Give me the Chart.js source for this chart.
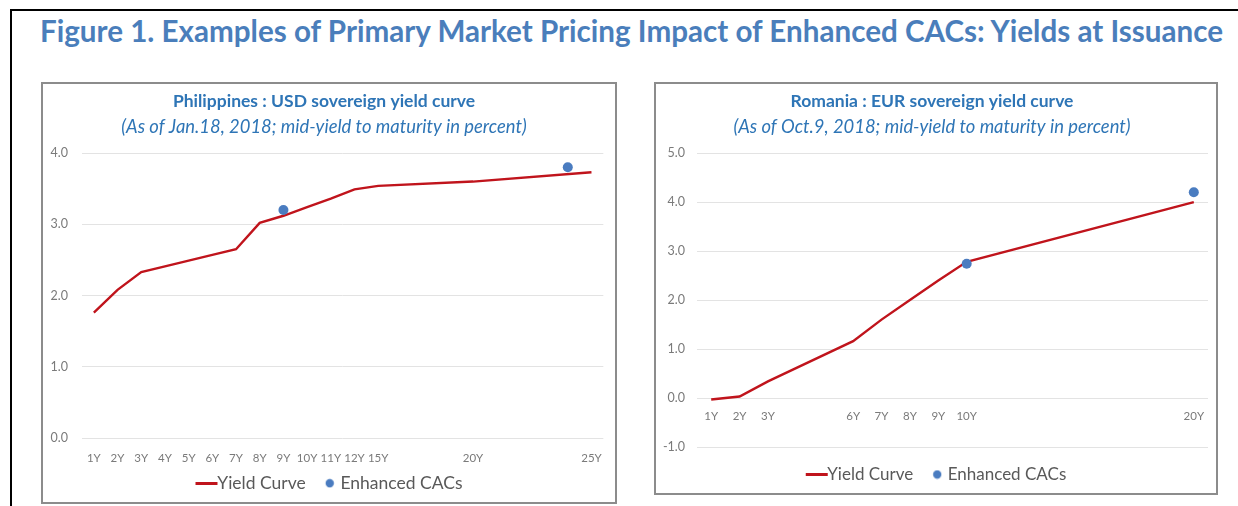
<!DOCTYPE html>
<html>
<head>
<meta charset="utf-8">
<script src="https://cdn.jsdelivr.net/npm/chart.js@4"></script>
<style>
  html, body { margin:0; padding:0; background:#fff; width:1238px; height:506px; overflow:hidden; }
  #frame { position:absolute; left:10px; top:9px; width:1240px; height:520px; border-left:2px solid #000; border-top:2px solid #000; box-sizing:border-box; }
  #figtitle { position:absolute; left:40px; top:13px; font-family:Lato, "Open Sans", sans-serif; font-weight:bold; font-size:29.6px; color:#4A7EBB; white-space:nowrap; }
  .panel { position:absolute; border:2px solid #8c8c8c; box-sizing:border-box; background:#fff; }
  #p1 { left:41px; top:82px; width:576px; height:422px; }
  #p2 { left:654px; top:82px; width:564px; height:413px; }
  .panel canvas { display:block; }
</style>
</head>
<body>
<div id="frame"></div>
<div id="figtitle">Figure 1. Examples of Primary Market Pricing Impact of Enhanced CACs: Yields at Issuance</div>
<div class="panel" id="p1"><canvas id="c1"></canvas></div>
<div class="panel" id="p2"><canvas id="c2"></canvas></div>
<script>
// ---- Data ----
const phTitle = 'Philippines : USD sovereign yield curve';
const phSubtitle = '(As of Jan.18, 2018; mid-yield to maturity in percent)';
const phLabels = ['1Y','2Y','3Y','4Y','5Y','6Y','7Y','8Y','9Y','10Y','11Y','12Y','15Y','','','','20Y','','','','','25Y'];
const phYield = [1.76, 2.08, 2.33, 2.41, 2.49, 2.57, 2.65, 3.02, 3.12, 3.24, 3.36, 3.49, 3.54, null, null, null, 3.60, null, null, null, null, 3.73];
const phCAC = [null, null, null, null, null, null, null, null, 3.20, null, null, null, null, null, null, null, null, null, null, null, 3.80, null];

const roTitle = 'Romania : EUR sovereign yield curve';
const roSubtitle = '(As of Oct.9, 2018; mid-yield to maturity in percent)';
const roLabels = ['1Y','2Y','3Y','','','6Y','7Y','8Y','9Y','10Y','','','','','','','','20Y'];
const roYield = [-0.03, 0.03, 0.34, null, null, 1.16, 1.60, 2.00, 2.40, 2.78, null, null, null, null, null, null, null, 4.00];
const roCAC = [null, null, null, null, null, null, null, null, null, 2.74, null, null, null, null, null, null, null, 4.20];

const seriesNames = ['Yield Curve', 'Enhanced CACs'];

// ---- Styles ----
const RED = '#C0141C';
const BLUE = '#4A7CC0';
const TITLE_BLUE = '#2E75B6';
const FONT = 'Lato, "Open Sans", sans-serif';

function lineIcon() {
  const c = document.createElement('canvas'); c.width = 30; c.height = 3;
  const x = c.getContext('2d'); x.fillStyle = RED; x.fillRect(7, 0, 22, 3); return c;
}
function dotIcon() {
  const c = document.createElement('canvas'); c.width = 16; c.height = 10;
  const x = c.getContext('2d'); x.fillStyle = BLUE; x.beginPath(); x.arc(11, 5, 4.2, 0, Math.PI * 2); x.fill(); return c;
}
const icons = [lineIcon(), dotIcon()];

// keeps the legend centred in its panel
const centerLegend = {
  id: 'centerLegend',
  afterLayout(chart) {
    const lg = chart.legend; if (!lg) return;
    const dx = chart.width / 2 + 1.5 - (lg.left + lg.right) / 2;
    lg.left += dx; lg.right += dx;
  }
};

function makeChart(id, w, h, title, subtitle, labels, yieldData, cacData, yMin, yMax, opts) {
  const cv = document.getElementById(id);
  cv.width = w; cv.height = h; cv.style.width = w + 'px'; cv.style.height = h + 'px';
  return new Chart(cv, {
    type: 'line',
    plugins: [centerLegend],
    data: {
      labels: labels,
      datasets: [
        { label: seriesNames[0], data: yieldData, borderColor: RED, backgroundColor: RED, borderWidth: 2.4,
          pointRadius: 0, spanGaps: true, tension: 0, order: 2 },
        { label: seriesNames[1], data: cacData, borderColor: BLUE, backgroundColor: BLUE, showLine: false,
          pointRadius: 5, pointBorderWidth: 0, order: 1 }
      ]
    },
    options: {
      responsive: false, animation: false, maintainAspectRatio: false,
      layout: { padding: opts.padding },
      plugins: {
        tooltip: { enabled: false },
        title: { display: true, text: title, color: TITLE_BLUE, font: { family: FONT, size: 17.5, weight: 'bold' }, padding: { top: 6.5, bottom: 0 } },
        subtitle: { display: true, text: subtitle, color: TITLE_BLUE, font: { family: FONT, size: 18.4, style: 'italic' }, padding: { top: 4.5, bottom: 15 } },
        legend: {
          position: 'bottom',
          labels: {
            usePointStyle: true, boxWidth: 10, boxHeight: 8, padding: 16,
            color: '#595959', font: { family: FONT, size: opts.legendSize },
            generateLabels: (chart) => chart.data.datasets.map((ds, i) => ({
              text: ds.label, pointStyle: icons[i], datasetIndex: i, hidden: false,
              fillStyle: ds.backgroundColor, strokeStyle: ds.borderColor, lineWidth: 0, fontColor: '#595959'
            }))
          }
        }
      },
      scales: {
        x: {
          type: 'category', offset: true,
          position: { y: opts.xAt },
          grid: { display: false, drawTicks: false },
          border: { display: false },
          ticks: { autoSkip: false, maxRotation: 0, minRotation: 0, color: '#7a7a7a', padding: opts.xTickPad,
                   font: { family: FONT, size: 11.5 } }
        },
        gap: {
          type: 'category', position: 'bottom', display: true,
          grid: { display: false, drawTicks: false },
          border: { display: false },
          ticks: { display: false },
          afterFit: (s) => { s.height = opts.gap; }
        },
        y: {
          min: yMin, max: yMax,
          grid: { color: '#e3e3e3', lineWidth: 1, drawTicks: false },
          border: { display: false },
          afterFit: (s) => { s.width = opts.yWidth; },
          ticks: { stepSize: 1, color: '#7a7a7a', padding: opts.yTickPad, font: { family: FONT, size: 12.5 },
                   callback: (v) => Number(v).toFixed(1) }
        }
      }
    }
  });
}

makeChart('c1', 572, 418, phTitle, phSubtitle, phLabels, phYield, phCAC, 0, 4, {
  padding: { left: 0, right: 10, top: 0, bottom: 0 },
  xAt: 0, xTickPad: 13, gap: 20.5, yTickPad: 14, yWidth: 39, legendSize: 17.5
});
makeChart('c2', 560, 409, roTitle, roSubtitle, roLabels, roYield, roCAC, -1, 5, {
  padding: { left: 0, right: 8, top: 0, bottom: 0 },
  xAt: 0, xTickPad: 11, gap: 3, yTickPad: 12, yWidth: 41, legendSize: 17
});
</script>
</body>
</html>
